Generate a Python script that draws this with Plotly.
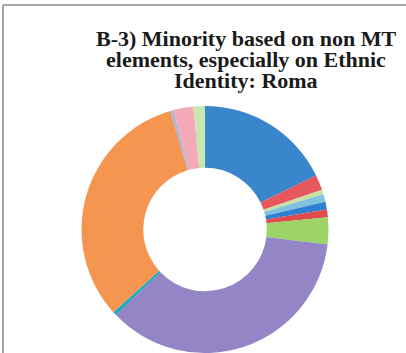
import plotly.graph_objects as go

# Slice data (clockwise from 12 o'clock)
categories = ["A", "B", "C", "D", "E", "F", "G", "H", "I", "J", "K", "L", "M"]
values = [17.7, 2.0, 0.6, 1.0, 1.0, 1.0, 3.5, 35.7, 0.5, 32.0, 0.4, 2.6, 1.5]
colors = ["#3a86cc", "#e8565e", "#c8e0a0", "#80c0e0", "#2f80d0", "#e04a4a",
          "#9cd468", "#9486c6", "#22a8c0", "#f49650", "#a8b8d8", "#f4a8b8", "#c8e6b0"]

title_lines = ["B-3) Minority based on non MT",
               "elements, especially on Ethnic",
               "Identity: Roma"]

W, H = 406, 353

fig = go.Figure(go.Pie(
    labels=categories, values=values, sort=False, direction="clockwise",
    rotation=0, hole=0.5, textinfo="none", hoverinfo="label+percent",
    marker=dict(colors=colors, line=dict(width=0)),
    domain=dict(x=[0.12, 0.89], y=[0.0, 247 / H]),
    showlegend=False,
))

line_y = [53, 74, 95]  # box bottoms in px from top
for txt, yb in zip(title_lines, line_y):
    fig.add_annotation(
        text="<b>" + txt + "</b>", x=246 / W, y=1 - yb / H, xref="paper", yref="paper",
        xanchor="center", yanchor="bottom", showarrow=False,
        font=dict(family="Liberation Serif", size=22, color="#1a1a1a"),
    )

# frame lines (top and left)
fig.add_shape(type="line", xref="paper", yref="paper",
              x0=3 / W, x1=1, y0=1 - 5 / H, y1=1 - 5 / H,
              line=dict(color="#a6a6a6", width=2))
fig.add_shape(type="line", xref="paper", yref="paper",
              x0=3 / W, x1=3 / W, y0=0, y1=1 - 5 / H,
              line=dict(color="#a6a6a6", width=2))

fig.update_layout(
    width=W, height=H, margin=dict(l=0, r=0, t=0, b=0),
    paper_bgcolor="white", plot_bgcolor="white",
)

fig.write_html("out.html")
